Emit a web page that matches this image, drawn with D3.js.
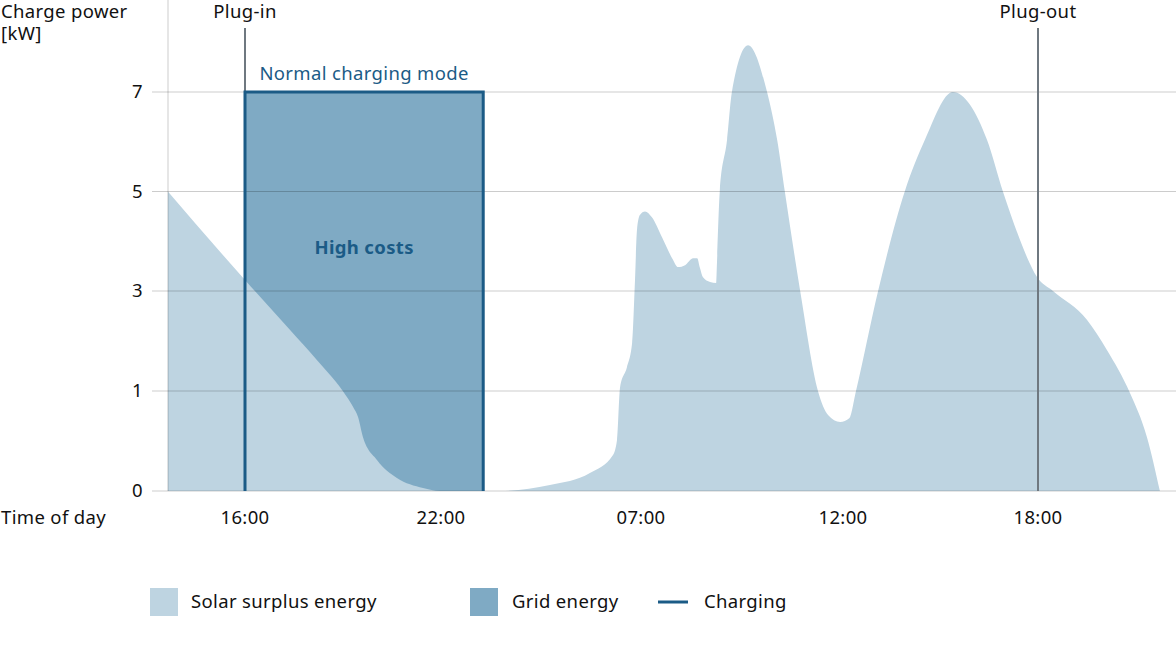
<!DOCTYPE html>
<html><head><meta charset="utf-8">
<script src="https://cdn.jsdelivr.net/npm/d3@7"></script>
<style>body{margin:0;background:#fff}svg{display:block}text{font-family:"Noto Sans",sans-serif;fill:#111;font-size:18.5px;letter-spacing:0.35px}</style>
</head><body><svg id="c" width="1176" height="662"></svg>
<script>
// hours after 16:00 on the first day
const tickHours = [0, 6, 15, 20, 26];
const tickLabels = ["16:00", "22:00", "07:00", "12:00", "18:00"];
const yTicks = [0, 1, 3, 5, 7];
const solarHours = [-2.36,0,1.38,2.2,3.12,3.31,3.46,3.61,4.04,4.65,5.45,5.97,8.66,10.9,12.7,13.74,13.92,14.06,14.37,14.6,14.73,14.82,14.95,15.1,15.27,15.52,15.77,15.92,16.09,16.29,16.39,16.46,16.53,16.71,16.86,16.88,16.95,17.13,17.25,17.65,18.12,18.37,18.56,18.94,19.38,19.63,19.93,20.2,20.4,21.08,21.9,22.52,23.38,24.43,24.92,25.45,25.66,25.97,26.46,27.51,28.12,28.83,29.35,29.75];
const solarKW = [5.0,3.22,2.22,1.62,0.94,0.84,0.74,0.54,0.31,0.13,0.03,0,0,0.06,0.18,0.36,0.51,1.08,1.48,1.96,3.22,4.23,4.53,4.6,4.48,4.08,3.66,3.48,3.52,3.66,3.66,3.46,3.28,3.18,3.16,3.56,5.0,6.04,7.0,7.94,7.0,6.04,5.0,3.0,1.0,0.76,0.69,0.73,1.0,3.0,5.0,6.04,7.0,6.04,5.0,4.02,3.68,3.28,3.0,2.42,1.82,0.98,0.54,0];
const chargeStart = 0, chargeEnd = 7.9, chargePower = 7;
const plugIn = 0, plugOut = 26;
const legendItems = ["Solar surplus energy", "Grid energy", "Charging"];

const svg = d3.select("#c");
const x = d3.scaleLinear().domain(tickHours).range([245, 441, 641, 843, 1038]);
const y = d3.scaleLinear().domain(yTicks).range([491, 391, 291, 191.5, 92]);
const C = {solar:"#bed4e1", grid:"#7faac4", dark:"#1b5b86", gridline:"rgba(0,0,0,0.2)", plug:"#6f7880"};

const data = solarHours.map((h,i)=>({h, v: solarKW[i]}));

// grid energy rectangle
svg.append("rect").attr("x", x(chargeStart)).attr("y", y(chargePower))
  .attr("width", x(chargeEnd)-x(chargeStart)).attr("height", y(0)-y(chargePower)).attr("fill", C.grid);

// solar area
svg.append("path").datum(data)
  .attr("d", d3.area().x(d=>x(d.h)).y0(y(0)).y1(d=>y(d.v)).curve(d3.curveMonotoneX))
  .attr("fill", C.solar);

// grid lines
svg.append("g").selectAll("line").data(yTicks).join("line")
  .attr("x1", 152).attr("x2", 1176).attr("y1", d=>y(d)).attr("y2", d=>y(d))
  .attr("stroke", C.gridline).attr("stroke-width", 1);
// left axis line
svg.append("line").attr("x1", 168).attr("x2", 168).attr("y1", 0).attr("y2", y(0))
  .attr("stroke", C.gridline);

// y tick labels
svg.append("g").selectAll("text").data(yTicks).join("text")
  .attr("x", 143).attr("y", d=>y(d)).attr("dy", "0.35em").attr("text-anchor", "end")
  .text(d=>d);

// x tick labels
svg.append("g").selectAll("text").data(tickHours).join("text")
  .attr("x", d=>x(d)).attr("y", 518).attr("dy", "0.35em").attr("text-anchor", "middle")
  .text((d,i)=>tickLabels[i]);

svg.append("text").attr("x", 1).attr("y", 518).attr("dy","0.35em").text("Time of day");
svg.append("text").attr("x", 1).attr("y", 18).text("Charge power");
svg.append("text").attr("x", 1).attr("y", 40).text("[kW]");

// plug lines
[[plugIn,"Plug-in"],[plugOut,"Plug-out"]].forEach(([h,t])=>{
  svg.append("line").attr("x1", x(h)).attr("x2", x(h)).attr("y1", 28).attr("y2", y(0))
    .attr("stroke", C.plug).attr("stroke-width", 2);
  svg.append("text").attr("x", x(h)).attr("y", 18).attr("text-anchor","middle").text(t);
});

// charging outline
svg.append("path")
  .attr("d", d3.line()([[x(chargeStart), y(0)],[x(chargeStart), y(chargePower)],[x(chargeEnd), y(chargePower)],[x(chargeEnd), y(0)]]))
  .attr("fill","none").attr("stroke", C.dark).attr("stroke-width", 3);

svg.append("text").attr("x", (x(chargeStart)+x(chargeEnd))/2).attr("y", 80).attr("text-anchor","middle")
  .style("fill", C.dark).text("Normal charging mode");
svg.append("text").attr("x", (x(chargeStart)+x(chargeEnd))/2).attr("y", 248).attr("dy","0.35em").attr("text-anchor","middle")
  .attr("font-weight","bold").style("fill", C.dark).text("High costs");

// legend
const lg = svg.append("g");
lg.append("rect").attr("x",150).attr("y",588).attr("width",28).attr("height",28).attr("fill",C.solar);
lg.append("text").attr("x",191).attr("y",602).attr("dy","0.35em").text(legendItems[0]);
lg.append("rect").attr("x",470).attr("y",588).attr("width",28).attr("height",28).attr("fill",C.grid);
lg.append("text").attr("x",512).attr("y",602).attr("dy","0.35em").text(legendItems[1]);
lg.append("line").attr("x1",658).attr("x2",688).attr("y1",602).attr("y2",602).attr("stroke",C.dark).attr("stroke-width",3);
lg.append("text").attr("x",704).attr("y",602).attr("dy","0.35em").text(legendItems[2]);
</script></body></html>
